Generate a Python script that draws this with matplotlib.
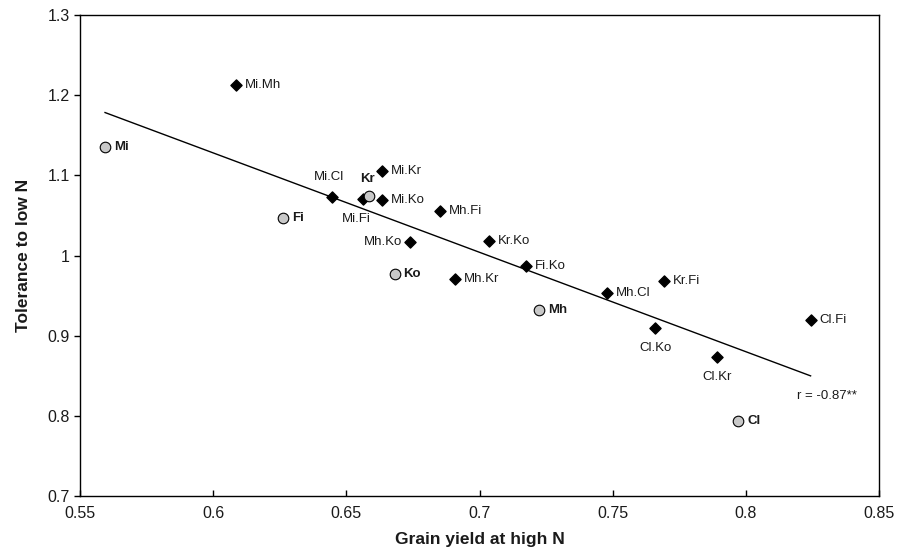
import matplotlib
matplotlib.use("Agg")
import matplotlib.pyplot as plt
import numpy as np

plt.rcParams['font.family'] = ['Liberation Sans', 'DejaVu Sans']

# Parents (grey circles)
parent_names = ["Mi", "Fi", "Kr", "Ko", "Mh", "Cl"]
parent_x = [0.5594, 0.6261, 0.6585, 0.6681, 0.7224, 0.7971]
parent_y = [1.1355, 1.047, 1.074, 0.9764, 0.9319, 0.7939]

# Hybrids (black diamonds)
hybrid_names = ["Mi.Mh", "Mi.Cl", "Mi.Kr", "Mi.Fi", "Mi.Ko", "Mh.Fi", "Mh.Ko",
                "Kr.Ko", "Mh.Kr", "Fi.Ko", "Mh.Cl", "Kr.Fi", "Cl.Ko", "Cl.Kr", "Cl.Fi"]
hybrid_x = [0.6086, 0.6446, 0.6633, 0.6563, 0.6633, 0.6851, 0.6739,
            0.7036, 0.6908, 0.7173, 0.7477, 0.7693, 0.7660, 0.7890, 0.8243]
hybrid_y = [1.2125, 1.0732, 1.1052, 1.0700, 1.0691, 1.0554, 1.0171,
            1.0180, 0.9702, 0.9872, 0.9527, 0.9685, 0.9099, 0.8733, 0.9195]

# Trend line coefficients
trend_slope = -1.24
trend_intercept = 1.872
r_text = "r = -0.87**"

x_ticks = [0.55, 0.6, 0.65, 0.7, 0.75, 0.8, 0.85]
x_ticklabels = ["0.55", "0.6", "0.65", "0.7", "0.75", "0.8", "0.85"]
y_ticks = [0.7, 0.8, 0.9, 1.0, 1.1, 1.2, 1.3]
y_ticklabels = ["0.7", "0.8", "0.9", "1", "1.1", "1.2", "1.3"]

# label placement: (dx points, dy points, ha, va)
default_place = (6.5, 0, 'left', 'center')
hybrid_place = {
    "Mi.Cl": (-2, 10, 'center', 'bottom'),
    "Mi.Fi": (-5, -10, 'center', 'top'),
    "Mh.Ko": (-6, 0, 'right', 'center'),
    "Cl.Ko": (0, -10, 'center', 'top'),
    "Cl.Kr": (0, -10, 'center', 'top'),
}
parent_place = {
    "Kr": (-1, 8, 'center', 'bottom'),
}

txt_color = '#1a1a1a'

fig = plt.figure(figsize=(9.08, 5.56), dpi=100)
ax = fig.add_axes([0.0881, 0.1079, 0.8800, 0.8651])

all_x = np.array(parent_x + hybrid_x)
xl = np.array([all_x.min(), all_x.max()])
ax.plot(xl, trend_intercept + trend_slope * xl, color='black', lw=1.0, zorder=1)

ax.scatter(hybrid_x, hybrid_y, marker='D', s=32, color='black', zorder=3)
ax.scatter(parent_x, parent_y, marker='o', s=58, facecolor='#c8c8c8',
           edgecolor='black', linewidths=0.8, zorder=3)

for n, x, y in zip(hybrid_names, hybrid_x, hybrid_y):
    dx, dy, ha, va = hybrid_place.get(n, default_place)
    ax.annotate(n, (x, y), xytext=(dx, dy), textcoords='offset points',
                ha=ha, va=va, fontsize=9.5, color=txt_color)
for n, x, y in zip(parent_names, parent_x, parent_y):
    dx, dy, ha, va = parent_place.get(n, default_place)
    ax.annotate(n, (x, y), xytext=(dx, dy), textcoords='offset points',
                ha=ha, va=va, fontsize=9.5, fontweight='bold', color=txt_color)

ax.text(0.8303, 0.825, r_text, ha='center', va='center', fontsize=9.5, color=txt_color)

ax.set_xlim(0.55, 0.85)
ax.set_ylim(0.7, 1.3)
ax.set_xticks(x_ticks)
ax.set_xticklabels(x_ticklabels)
ax.set_yticks(y_ticks)
ax.set_yticklabels(y_ticklabels)
ax.tick_params(axis='x', labelsize=11.5, direction='in', length=4, width=1,
               pad=7, labelcolor=txt_color)
ax.tick_params(axis='y', labelsize=11.5, direction='out', length=4, width=1,
               labelcolor=txt_color)
for s in ax.spines.values():
    s.set_linewidth(1.0)
    s.set_color('black')

ax.set_xlabel("Grain yield at high N", fontsize=12.5, fontweight='bold', labelpad=8,
              color=txt_color)
ax.set_ylabel("Tolerance to low N", fontsize=12.5, fontweight='bold', labelpad=12,
              color=txt_color)

fig.savefig("out.png", dpi=100)
